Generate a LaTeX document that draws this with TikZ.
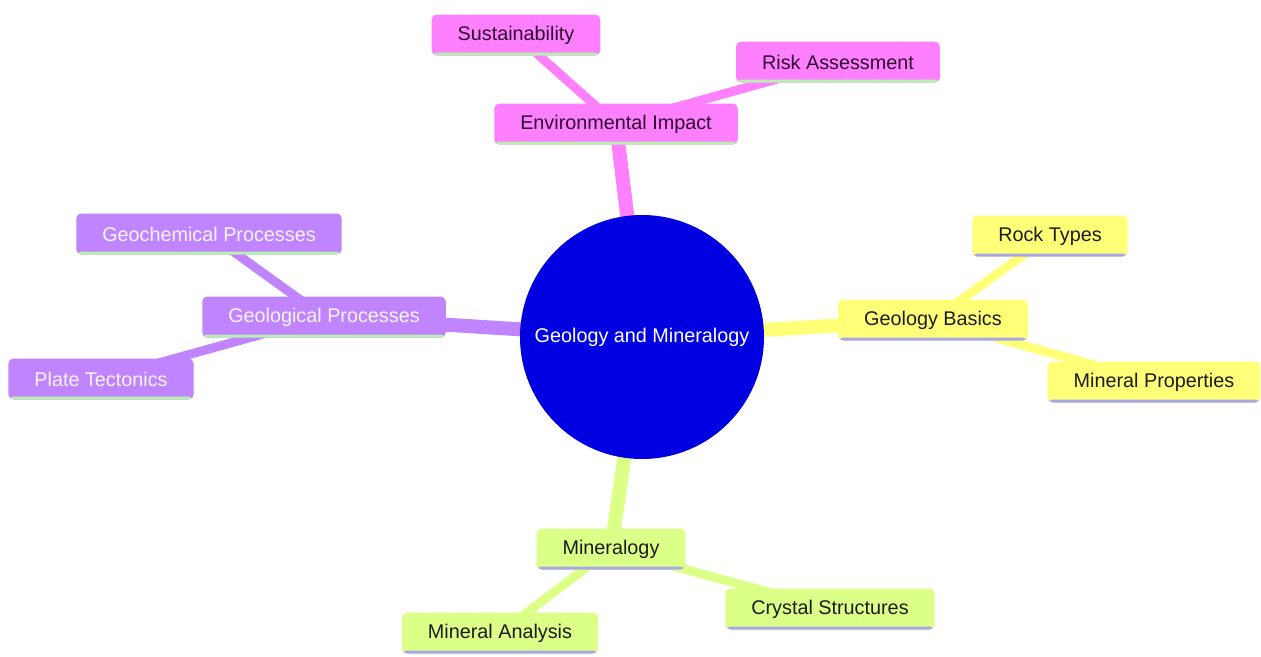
\documentclass[tikz,border=0pt]{standalone}
\usepackage{fontspec}
\setmainfont{Liberation Sans}
\usetikzlibrary{positioning,backgrounds}

\definecolor{rootblue}{HTML}{0000E0}
\definecolor{envpink}{HTML}{FF80FF}
\definecolor{procpurple}{HTML}{C084FF}
\definecolor{basicyellow}{HTML}{FFFF78}
\definecolor{minlime}{HTML}{DCFF88}
\definecolor{ulgreen}{HTML}{B8F0B0}
\definecolor{ullilac}{HTML}{A8A8E8}
\definecolor{darktext}{HTML}{1C1C1C}
\definecolor{pinktext}{HTML}{2E0A30}
\definecolor{lighttext}{HTML}{FAF4FF}

\tikzset{
	topic/.style={rectangle, rounded corners=5pt, inner xsep=26pt, inner ysep=0pt,
		minimum height=41pt, font=\fontsize{19.8}{23}\selectfont,
		path picture={\fill[#1] ([yshift=3pt]path picture bounding box.south west)
			rectangle (path picture bounding box.south east);}},
	envbox/.style={topic=ulgreen, fill=envpink, text=pinktext},
	procbox/.style={topic=ulgreen, fill=procpurple, text=lighttext},
	basicbox/.style={topic=ullilac, fill=basicyellow, text=darktext},
	minbox/.style={topic=ullilac, fill=minlime, text=darktext},
	rootnode/.style={circle, fill=rootblue, text=white, minimum size=244pt, inner sep=0pt,
		font=\fontsize{19.8}{23}\selectfont},
	trunk/.style={draw=#1, line width=14pt},
	twig/.style={draw=#1, line width=9pt}
}

\begin{document}
\begin{tikzpicture}[x=1pt, y=-1pt]
	\useasboundingbox (0,0) rectangle (1261,656);

	\node[rootnode] (root) at (642,337) {Geology and Mineralogy};

	\node[envbox] (env) at (616,124) {Environmental Impact};
	\node[envbox] (sust) at (516,35) {Sustainability};
	\node[envbox] (risk) at (838,62) {Risk Assessment};

	\node[basicbox] (basics) at (933,320) {Geology Basics};
	\node[basicbox] (rock) at (1050,236) {Rock Types};
	\node[basicbox] (props) at (1154,382) {Mineral Properties};

	\node[procbox] (proc) at (324,317) {Geological Processes};
	\node[procbox] (chem) at (209,234) {Geochemical Processes};
	\node[procbox] (plate) at (101,379) {Plate Tectonics};

	\node[minbox] (min) at (611,549) {Mineralogy};
	\node[minbox] (anal) at (500,633) {Mineral Analysis};
	\node[minbox] (cryst) at (830,609) {Crystal Structures};

	\begin{scope}[on background layer]
		\fill[white] (0,0) rectangle (1261,656);
		\path
		(root.center) edge[trunk=envpink] (env.center)
		              edge[trunk=basicyellow] (basics.center)
		              edge[trunk=procpurple] (proc.center)
		              edge[trunk=minlime] (min.center)
		(env.center) edge[twig=envpink] (sust.center)
		             edge[twig=envpink] (risk.center)
		(basics.center) edge[twig=basicyellow] (rock.center)
		                edge[twig=basicyellow] (props.center)
		(proc.center) edge[twig=procpurple] (chem.center)
		              edge[twig=procpurple] (plate.center)
		(min.center) edge[twig=minlime] (anal.center)
		             edge[twig=minlime] (cryst.center);
	\end{scope}
\end{tikzpicture}
\end{document}
